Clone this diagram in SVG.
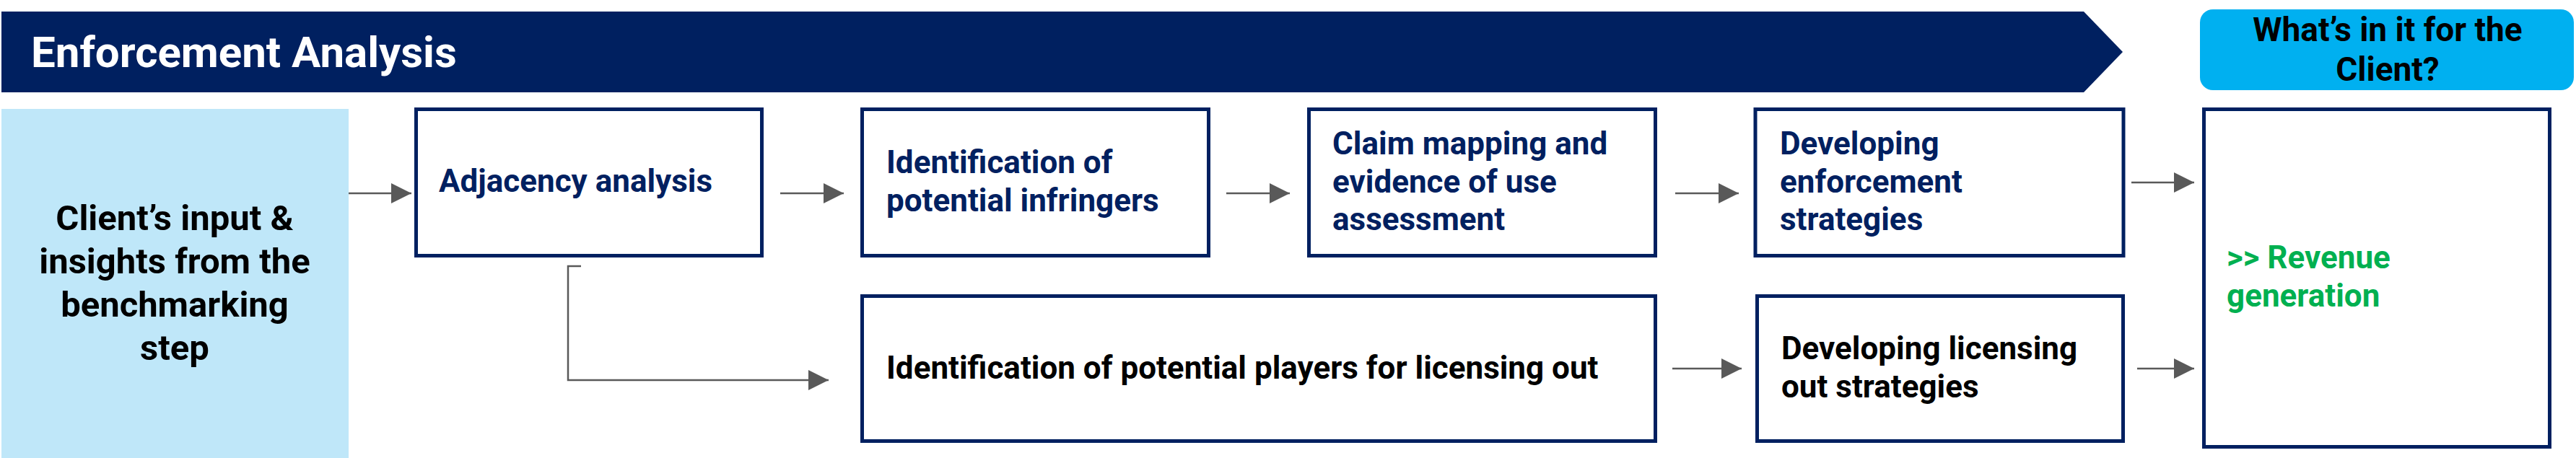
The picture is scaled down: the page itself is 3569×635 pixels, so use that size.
<svg xmlns="http://www.w3.org/2000/svg" width="3569" height="635" viewBox="0 0 3569 635">
<style>
text{font-family:Roboto,"Liberation Sans",Arial,sans-serif;font-weight:700}
.box{fill:#ffffff;stroke:#002060;stroke-width:5}
.t{font-size:44px;fill:#002060}
.k{font-size:44px;fill:#000000}
.g{font-size:44px;fill:#00B050}
.conn{fill:none;stroke:#595959;stroke-width:2.5}
</style>
<defs>
<marker id="ah" markerUnits="userSpaceOnUse" markerWidth="28" markerHeight="28" refX="28" refY="14" orient="auto" viewBox="0 0 28 28">
<path d="M0,0 L28,14 L0,28 z" fill="#595959"/>
</marker>
</defs>
<g id="banner">
<polygon points="2,16 2887,16 2941,72 2887,128 2,128" fill="#002060"/>
<text x="43" y="93" style="font-size:60px;fill:#ffffff">Enforcement Analysis</text>
</g>
<g id="client-header">
<rect x="3048" y="13" width="518" height="112" rx="18" fill="#00B0F0"/>
<text x="3308" y="57" text-anchor="middle" style="font-size:46px;fill:#000000">What’s in it for the</text>
<text x="3308" y="112" text-anchor="middle" style="font-size:46px;fill:#000000">Client?</text>
</g>
<g id="client-input">
<rect x="2" y="151" width="481" height="484" fill="#BFE7F9"/>
<text text-anchor="middle" style="font-size:49px;fill:#000000"><tspan x="242" y="319">Client’s input &amp;</tspan><tspan x="242" y="379">insights from the</tspan><tspan x="242" y="439">benchmarking</tspan><tspan x="242" y="499">step</tspan></text>
</g>
<g id="adjacency">
<rect class="box" x="576.5" y="151.5" width="479" height="203"/>
<text class="t" x="608" y="266">Adjacency analysis</text>
</g>
<g id="infringers">
<rect class="box" x="1194.5" y="151.5" width="480" height="203"/>
<text class="t"><tspan x="1228" y="240">Identification of</tspan><tspan x="1228" y="293">potential infringers</tspan></text>
</g>
<g id="claim-mapping">
<rect class="box" x="1813.5" y="151.5" width="480" height="203"/>
<text class="t"><tspan x="1846" y="214">Claim mapping and</tspan><tspan x="1846" y="267">evidence of use</tspan><tspan x="1846" y="319">assessment</tspan></text>
</g>
<g id="enforcement-strategies">
<rect class="box" x="2432" y="151.5" width="510" height="203"/>
<text class="t"><tspan x="2466" y="214">Developing</tspan><tspan x="2466" y="267">enforcement</tspan><tspan x="2466" y="319">strategies</tspan></text>
</g>
<g id="licensing-players">
<rect class="box" x="1194.5" y="410.5" width="1099" height="201"/>
<text class="k" x="1228" y="525">Identification of potential players for licensing out</text>
</g>
<g id="licensing-strategies">
<rect class="box" x="2434.5" y="410.5" width="507" height="201"/>
<text class="k"><tspan x="2468" y="498">Developing licensing</tspan><tspan x="2468" y="551">out strategies</tspan></text>
</g>
<g id="revenue">
<rect class="box" x="3053.5" y="151.5" width="479" height="468"/>
<text class="g"><tspan x="3085" y="372">&gt;&gt; Revenue</tspan><tspan x="3085" y="425">generation</tspan></text>
</g>
<g id="connectors">
<path class="conn" d="M483,268 H570" marker-end="url(#ah)"/>
<path class="conn" d="M1081,268 H1169" marker-end="url(#ah)"/>
<path class="conn" d="M1699,268 H1787" marker-end="url(#ah)"/>
<path class="conn" d="M2321,268 H2409" marker-end="url(#ah)"/>
<path class="conn" d="M2953,253 H3040" marker-end="url(#ah)"/>
<path class="conn" d="M805,369 H787 V527 H1148" marker-end="url(#ah)"/>
<path class="conn" d="M2317,511 H2413" marker-end="url(#ah)"/>
<path class="conn" d="M2961,511 H3040" marker-end="url(#ah)"/>
</g>
</svg>
